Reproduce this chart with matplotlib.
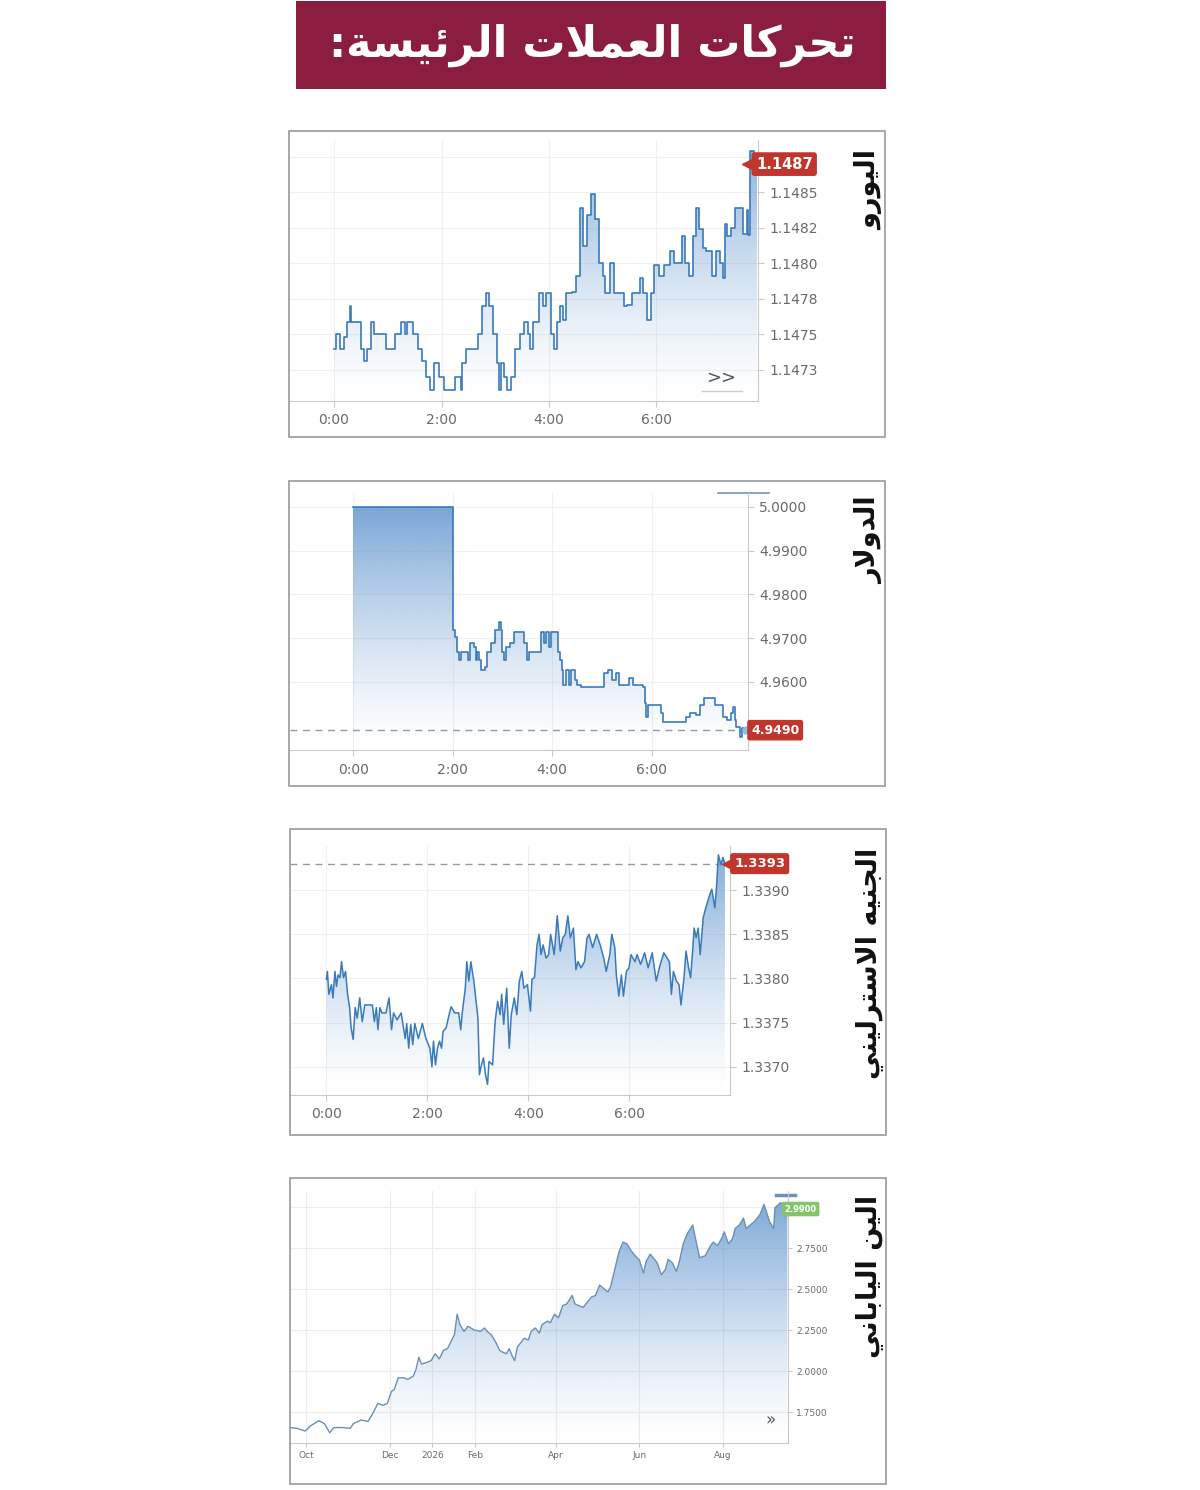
import numpy as np
import matplotlib
matplotlib.use("Agg")
import matplotlib.pyplot as plt
import matplotlib.colors as mcolors
import matplotlib.transforms as mtransforms
from matplotlib.patches import Rectangle

plt.rcParams['font.family'] = ['DejaVu Sans']

# ---------------- data ----------------
title_text = "تحركات العملات الرئيسة:"
labels = ["اليورو", "الدولار", "الجنيه الاسترليني", "الين الياباني"]

hour_ticks = [0, 2, 4, 6]
hour_labels = ["0:00", "2:00", "4:00", "6:00"]

# euro, hours since 0:00
eur_time = [0, 0.04, 0.11, 0.18, 0.25, 0.29, 0.32, 0.43, 0.5, 0.55,
            0.61, 0.68, 0.75, 0.93, 0.96, 1.11, 1.14, 1.25, 1.32, 1.36,
            1.46, 1.57, 1.64, 1.71, 1.79, 1.86, 1.96, 2.04, 2.21, 2.25,
            2.36, 2.39, 2.46, 2.54, 2.68, 2.75, 2.82, 2.89, 2.96, 3.04,
            3.07, 3.11, 3.16, 3.21, 3.29, 3.36, 3.46, 3.54, 3.61, 3.64,
            3.71, 3.82, 3.89, 3.95, 4.04, 4.09, 4.14, 4.21, 4.26, 4.32,
            4.43, 4.5, 4.57, 4.64, 4.71, 4.79, 4.86, 4.93, 5.0, 5.05,
            5.14, 5.21, 5.32, 5.39, 5.46, 5.54, 5.64, 5.69, 5.75, 5.82,
            5.89, 5.95, 6.04, 6.14, 6.25, 6.32, 6.43, 6.48, 6.54, 6.61,
            6.68, 6.74, 6.79, 6.86, 6.93, 7.04, 7.11, 7.18, 7.23, 7.27,
            7.32, 7.39, 7.46, 7.54, 7.61, 7.68, 7.71, 7.75, 7.82, 7.88]
eur_rate = [1.14740, 1.14750, 1.14740, 1.14748, 1.14759, 1.14770, 1.14759, 1.14759, 1.14740, 1.14731,
            1.14740, 1.14759, 1.14750, 1.14750, 1.14740, 1.14740, 1.14750, 1.14759, 1.14750, 1.14759,
            1.14750, 1.14740, 1.14731, 1.14720, 1.14711, 1.14730, 1.14720, 1.14711, 1.14711, 1.14720,
            1.14711, 1.14730, 1.14740, 1.14740, 1.14750, 1.14770, 1.14779, 1.14770, 1.14750, 1.14730,
            1.14711, 1.14730, 1.14720, 1.14711, 1.14720, 1.14740, 1.14750, 1.14759, 1.14750, 1.14740,
            1.14759, 1.14779, 1.14770, 1.14779, 1.14750, 1.14740, 1.14759, 1.14770, 1.14760, 1.14779,
            1.14780, 1.14791, 1.14839, 1.14812, 1.14834, 1.14849, 1.14831, 1.14800, 1.14791, 1.14779,
            1.14800, 1.14779, 1.14779, 1.14770, 1.14771, 1.14779, 1.14779, 1.14790, 1.14779, 1.14760,
            1.14779, 1.14799, 1.14791, 1.14799, 1.14809, 1.14800, 1.14800, 1.14819, 1.14800, 1.14791,
            1.14819, 1.14839, 1.14824, 1.14811, 1.14809, 1.14791, 1.14809, 1.14800, 1.14790, 1.14828,
            1.14819, 1.14825, 1.14839, 1.14839, 1.14821, 1.14838, 1.14820, 1.14879, 1.14876, 1.14870]
eur_ticks = [1.14725, 1.1475, 1.14775, 1.148, 1.14825, 1.1485, 1.14875]
eur_tick_labels = ["1.1473", "1.1475", "1.1478", "1.1480", "1.1482", "1.1485", ""]

# dollar
usd_time = [0, 2.0, 2.0, 2.04, 2.08, 2.12, 2.16, 2.27, 2.31, 2.35,
            2.43, 2.47, 2.5, 2.54, 2.58, 2.66, 2.7, 2.77, 2.85, 2.93,
            2.97, 3.0, 3.04, 3.08, 3.16, 3.24, 3.35, 3.43, 3.5, 3.54,
            3.7, 3.78, 3.83, 3.88, 3.93, 3.97, 4.04, 4.12, 4.16, 4.2,
            4.21, 4.28, 4.34, 4.39, 4.47, 4.51, 4.58, 4.97, 5.05, 5.12,
            5.2, 5.28, 5.35, 5.47, 5.55, 5.62, 5.82, 5.86, 5.89, 5.93,
            6.12, 6.2, 6.24, 6.66, 6.7, 6.78, 6.9, 6.97, 7.05, 7.2,
            7.28, 7.4, 7.43, 7.51, 7.59, 7.63, 7.67, 7.7, 7.78, 7.82,
            7.9]
usd_rate = [5.0, 5.0, 4.97186, 4.97034, 4.96692, 4.96502, 4.96692, 4.96692, 4.96502, 4.96882,
            4.96806, 4.96502, 4.96692, 4.96502, 4.96274, 4.9635, 4.96692, 4.96882, 4.97186, 4.97376,
            4.97186, 4.96692, 4.96502, 4.96806, 4.96882, 4.97148, 4.97148, 4.96882, 4.96502, 4.96692,
            4.96692, 4.97148, 4.96882, 4.97148, 4.96806, 4.97148, 4.97148, 4.96692, 4.96502, 4.96274,
            4.95931, 4.96274, 4.95931, 4.96274, 4.96045, 4.95931, 4.95893, 4.95893, 4.96198, 4.96274,
            4.96045, 4.96198, 4.95931, 4.95931, 4.96084, 4.95931, 4.95893, 4.95513, 4.95209, 4.95475,
            4.95475, 4.95285, 4.95095, 4.95095, 4.95209, 4.95285, 4.95247, 4.95475, 4.95627, 4.95627,
            4.95475, 4.95475, 4.95209, 4.95133, 4.95285, 4.95437, 4.95133, 4.94981, 4.94753, 4.94943,
            4.9490]
usd_ticks = [4.96, 4.97, 4.98, 4.99, 5.0]

# sterling
gbp_time = [0.0, 0.02, 0.05, 0.10, 0.13, 0.17, 0.2, 0.23, 0.27, 0.3,
            0.34, 0.38, 0.42, 0.46, 0.49, 0.53, 0.57, 0.61, 0.66, 0.71,
            0.76, 0.8, 0.91, 0.95, 0.99, 1.02, 1.06, 1.1, 1.18, 1.24,
            1.29, 1.33, 1.4, 1.48, 1.56, 1.59, 1.63, 1.67, 1.71, 1.75,
            1.82, 1.9, 1.97, 2.05, 2.09, 2.12, 2.16, 2.2, 2.24, 2.28,
            2.31, 2.37, 2.43, 2.47, 2.54, 2.62, 2.66, 2.69, 2.75, 2.78,
            2.82, 2.86, 2.92, 3.0, 3.03, 3.07, 3.11, 3.15, 3.19, 3.22,
            3.29, 3.34, 3.39, 3.44, 3.47, 3.51, 3.57, 3.62, 3.66, 3.72,
            3.77, 3.82, 3.87, 3.91, 3.98, 4.04, 4.07, 4.12, 4.17, 4.21,
            4.25, 4.29, 4.35, 4.4, 4.44, 4.51, 4.57, 4.63, 4.68, 4.73,
            4.78, 4.83, 4.89, 4.94, 4.98, 5.04, 5.11, 5.16, 5.2, 5.27,
            5.35, 5.42, 5.49, 5.54, 5.61, 5.65, 5.71, 5.74, 5.79, 5.84,
            5.88, 5.94, 5.99, 6.03, 6.11, 6.15, 6.22, 6.3, 6.37, 6.45,
            6.53, 6.6, 6.68, 6.79, 6.83, 6.87, 6.93, 6.98, 7.02, 7.08,
            7.12, 7.17, 7.21, 7.25, 7.28, 7.32, 7.36, 7.4, 7.46, 7.51,
            7.59, 7.63, 7.69, 7.72, 7.76, 7.81, 7.85, 7.89]
gbp_rate = [1.33799, 1.33808, 1.33782, 1.33793, 1.33778, 1.33808, 1.33791, 1.33804, 1.33801, 1.33819,
            1.33801, 1.33808, 1.33782, 1.33767, 1.33744, 1.33731, 1.33767, 1.33755, 1.33778, 1.33751,
            1.33770, 1.33770, 1.33770, 1.33751, 1.33767, 1.33742, 1.33767, 1.33761, 1.33761, 1.33778,
            1.33742, 1.33761, 1.33753, 1.33761, 1.33732, 1.33749, 1.33721, 1.33748, 1.33725, 1.33749,
            1.33732, 1.33749, 1.33732, 1.33721, 1.33700, 1.33729, 1.33702, 1.33721, 1.33729, 1.33721,
            1.33740, 1.33744, 1.33759, 1.33768, 1.33761, 1.33761, 1.33742, 1.33761, 1.33789, 1.33819,
            1.33797, 1.33819, 1.33797, 1.33755, 1.33691, 1.33702, 1.33710, 1.33691, 1.33680, 1.33706,
            1.33702, 1.33751, 1.33774, 1.33759, 1.33782, 1.33748, 1.33789, 1.33721, 1.33759, 1.33778,
            1.33759, 1.33797, 1.33808, 1.33789, 1.33793, 1.33763, 1.33799, 1.33801, 1.33838, 1.33850,
            1.33827, 1.33838, 1.33823, 1.33827, 1.33850, 1.33827, 1.33871, 1.33831, 1.33846, 1.33850,
            1.33871, 1.33846, 1.33857, 1.33810, 1.33819, 1.33812, 1.33819, 1.33846, 1.33850, 1.33835,
            1.33850, 1.33838, 1.33823, 1.33808, 1.33827, 1.33850, 1.33835, 1.33804, 1.33780, 1.33804,
            1.33780, 1.33808, 1.33812, 1.33827, 1.33819, 1.33827, 1.33816, 1.33829, 1.33812, 1.33829,
            1.33797, 1.33814, 1.33829, 1.33819, 1.33782, 1.33808, 1.33797, 1.33793, 1.33770, 1.33801,
            1.33831, 1.33812, 1.33801, 1.33831, 1.33857, 1.33846, 1.33857, 1.33827, 1.33869, 1.33880,
            1.33895, 1.33901, 1.33880, 1.33901, 1.33940, 1.33929, 1.33937, 1.33930]
gbp_ticks = [1.337, 1.3375, 1.338, 1.3385, 1.339]

# yen, days since 2025-10-01
yen_start = np.datetime64("2025-10-01")
yen_day = [-12, -7, -1, 3, 9, 13, 17, 20, 26, 32,
           34, 36, 40, 45, 49, 52, 56, 59, 62, 64,
           67, 71, 74, 78, 80, 82, 84, 88, 91, 94,
           97, 100, 103, 106, 108, 110, 112, 115, 118, 122,
           127, 130, 132, 135, 138, 141, 143, 146, 148, 150,
           152, 154, 156, 159, 162, 164, 167, 170, 172, 176,
           178, 181, 184, 187, 190, 194, 196, 199, 202, 204,
           208, 211, 214, 217, 220, 222, 225, 228, 231, 234,
           237, 240, 243, 246, 248, 251, 254, 256, 259, 262,
           264, 267, 270, 272, 275, 278, 282, 284, 287, 291,
           295, 297, 300, 303, 305, 308, 311, 313, 316, 319,
           321, 324, 327, 331, 334, 336, 338, 341, 342, 346,
           349, 351]
yen_rate = [1.6557, 1.6515, 1.6347, 1.6662, 1.6976, 1.6808, 1.6242, 1.6557, 1.6557, 1.6515,
            1.6767, 1.6871, 1.7018, 1.6934, 1.7500, 1.8024, 1.7920, 1.8024, 1.8758, 1.8863,
            1.9597, 1.9597, 1.9492, 1.9701, 2.0121, 2.0854, 2.0435, 2.0540, 2.0645, 2.1064,
            2.0750, 2.1274, 2.1379, 2.1903, 2.2217, 2.3475, 2.2846, 2.2427, 2.2741, 2.2532,
            2.2427, 2.2636, 2.2427, 2.2217, 2.1798, 2.1274, 2.1169, 2.1064, 2.1379, 2.0959,
            2.0645, 2.1483, 2.1693, 2.2007, 2.1903, 2.2427, 2.2636, 2.2322, 2.2846, 2.3056,
            2.2951, 2.3475, 2.3265, 2.3999, 2.4104, 2.4628, 2.4104, 2.3999, 2.3894, 2.4104,
            2.4523, 2.4628, 2.5257, 2.5047, 2.4838, 2.5152, 2.6200, 2.7248, 2.7877, 2.7773,
            2.7353, 2.7039, 2.6787, 2.5991, 2.6724, 2.7144, 2.6829, 2.6620, 2.5886, 2.6200,
            2.6829, 2.6620, 2.6095, 2.6620, 2.7773, 2.8401, 2.8926, 2.8087, 2.6934, 2.7039,
            2.7668, 2.7877, 2.7668, 2.8087, 2.8506, 2.7773, 2.8087, 2.8716, 2.8926, 2.9345,
            2.8716, 2.8926, 2.9135, 2.9554, 3.0183, 2.9659, 2.9135, 2.8716, 2.9974, 3.0288,
            3.0079, 2.9900]
yen_ticks = [1.75, 2.0, 2.25, 2.5, 2.75, 3.0]
yen_month_dates = ["2025-10-01", "2025-12-01", "2026-01-01", "2026-02-01",
                   "2026-04-01", "2026-06-01", "2026-08-01"]
yen_month_labels = ["Oct", "Dec", "2026", "Feb", "Apr", "Jun", "Aug"]

# ---------------- arabic shaping (matplotlib has no bidi) ----------------
FORMS = {
    'ا': ('\uFE8D', '\uFE8E', None, None),
    'ب': ('\uFE8F', '\uFE90', '\uFE91', '\uFE92'),
    'ة': ('\uFE93', '\uFE94', None, None),
    'ت': ('\uFE95', '\uFE96', '\uFE97', '\uFE98'),
    'ج': ('\uFE9D', '\uFE9E', '\uFE9F', '\uFEA0'),
    'ح': ('\uFEA1', '\uFEA2', '\uFEA3', '\uFEA4'),
    'د': ('\uFEA9', '\uFEAA', None, None),
    'ر': ('\uFEAD', '\uFEAE', None, None),
    'س': ('\uFEB1', '\uFEB2', '\uFEB3', '\uFEB4'),
    'ع': ('\uFEC9', '\uFECA', '\uFECB', '\uFECC'),
    'ك': ('\uFED9', '\uFEDA', '\uFEDB', '\uFEDC'),
    'ل': ('\uFEDD', '\uFEDE', '\uFEDF', '\uFEE0'),
    'م': ('\uFEE1', '\uFEE2', '\uFEE3', '\uFEE4'),
    'ن': ('\uFEE5', '\uFEE6', '\uFEE7', '\uFEE8'),
    'ه': ('\uFEE9', '\uFEEA', '\uFEEB', '\uFEEC'),
    'و': ('\uFEED', '\uFEEE', None, None),
    'ي': ('\uFEF1', '\uFEF2', '\uFEF3', '\uFEF4'),
    'ئ': ('\uFE89', '\uFE8A', '\uFE8B', '\uFE8C'),
}


def shape(text):
    res = []
    i = 0
    n = len(text)
    while i < n:
        c = text[i]
        if c not in FORMS:
            res.append(c)
            i += 1
            continue
        prev = i > 0 and text[i-1] in FORMS and FORMS[text[i-1]][2] is not None
        if c == 'ل' and i + 1 < n and text[i+1] == 'ا':
            res.append('\uFEFC' if prev else '\uFEFB')
            i += 2
            continue
        nxt = FORMS[c][2] is not None and i + 1 < n and text[i+1] in FORMS
        iso, fin, ini, med = FORMS[c]
        if prev and nxt:
            g = med
        elif prev:
            g = fin
        elif nxt:
            g = ini
        else:
            g = iso
        res.append(g)
        i += 1
    return ''.join(reversed(res))


# ---------------- figure ----------------
W, H = 1200, 1490
fig = plt.figure(figsize=(W/100, H/100), dpi=100)
fig.patch.set_facecolor('white')

LINE = '#3a7aba'
FILL = '#5f95cf'
RED = '#c0362c'
GRAY = '#c9c9c9'
TXT = '#6a6a6a'


def px_axes(x0, y0, x1, y1):
    return fig.add_axes([x0/W, 1 - y1/H, (x1-x0)/W, (y1-y0)/H])


def frame(x0, y0, x1, y1):
    fig.patches.append(Rectangle((x0/W, 1 - y1/H), (x1-x0)/W, (y1-y0)/H,
                                 transform=fig.transFigure, fill=False,
                                 edgecolor='#9a9a9a', linewidth=1.2))


def style(ax, size=10):
    for s in ['top', 'left']:
        ax.spines[s].set_visible(False)
    for s in ['right', 'bottom']:
        ax.spines[s].set_color(GRAY)
    ax.yaxis.tick_right()
    ax.tick_params(axis='both', colors=GRAY, labelcolor=TXT, length=4,
                   labelsize=size, width=0.8)
    ax.grid(True, color='#f0f0f0', linewidth=0.8)
    ax.set_axisbelow(True)


def gradient_fill(ax, x, y, step=None, top_alpha=0.85):
    x0, x1 = ax.get_xlim()
    y0, y1 = ax.get_ylim()
    coll = ax.fill_between(x, y, y0, step=step, facecolor='none', edgecolor='none')
    t = np.linspace(0, 1, 256) ** 1.35
    rgba = np.zeros((256, 1, 4))
    rgba[..., :3] = mcolors.to_rgb(FILL)
    rgba[:, 0, 3] = t * top_alpha
    im = ax.imshow(rgba, extent=[x0, x1, y0, y1], origin='lower', aspect='auto',
                   zorder=1, interpolation='bilinear')
    im.set_clip_path(coll.get_paths()[0], transform=ax.transData)
    ax.set_xlim(x0, x1)
    ax.set_ylim(y0, y1)


def price_tag(ax, value, text, color, dx, fs, arrow=True):
    tr = mtransforms.blended_transform_factory(ax.transAxes, ax.transData)
    ax.annotate(text, xy=(1, value), xycoords=tr, xytext=(dx, 0),
                textcoords='offset points', ha='left', va='center',
                color='white', fontsize=fs, fontweight='bold',
                bbox=dict(boxstyle='round,pad=0.25,rounding_size=0.15', fc=color, ec=color),
                annotation_clip=False, zorder=10)
    if arrow:
        off = mtransforms.offset_copy(tr, fig=fig, x=dx - fs*0.25 - 2, y=0, units='points')
        ax.plot([1], [value], marker='<', ms=fs*0.9, color=color, mec=color,
                transform=off, clip_on=False, zorder=10)


# title banner
fig.patches.append(Rectangle((296/W, 1 - 89/H), 590/W, 88/H, transform=fig.transFigure,
                             facecolor='#8b1d3f', edgecolor='none'))
fig.text(592/W, 1 - 45/H, shape(title_text), color='white', fontsize=31,
         fontweight='bold', ha='center', va='center')

# panel frames
frame(289, 131, 885, 437)
frame(289, 481, 885, 786)
frame(290, 829, 886, 1135)
frame(290, 1178, 886, 1484)

# side labels
for lab, ytop in zip(labels, [150, 496, 848, 1195]):
    fig.text(869/W, 1 - ytop/H, shape(lab), rotation=90, fontsize=19.5,
             fontweight='bold', color='#111111', ha='center', va='top')

# ---- euro ----
ax1 = px_axes(290, 140, 758, 401)
ax1.set_xlim(-0.82, 7.89)
ax1.set_ylim(1.14703, 1.14887)
style(ax1)
gradient_fill(ax1, eur_time, eur_rate, step='post', top_alpha=0.75)
ax1.plot(eur_time, eur_rate, drawstyle='steps-post', color=LINE, lw=1.2, zorder=3)
ax1.set_xticks(hour_ticks, hour_labels)
ax1.set_yticks(eur_ticks, eur_tick_labels)
ax1.tick_params(axis='x', pad=5)
ax1.tick_params(axis='y', pad=4)
price_tag(ax1, eur_rate[-1], f"{eur_rate[-1]:.4f}", RED, -1.5, 10.5)
ax1.text(0.922, 0.09, ">>", transform=ax1.transAxes, fontsize=13, color='#555555',
         ha='center', va='center')
ax1.plot([0.88, 0.965], [0.04, 0.04], transform=ax1.transAxes, color='#cccccc', lw=1)

# ---- dollar ----
ax2 = px_axes(290, 493, 748, 750)
ax2.set_xlim(-1.27, 7.94)
ax2.set_ylim(4.94448, 5.00312)
style(ax2)
gradient_fill(ax2, usd_time, usd_rate, step='post', top_alpha=0.9)
ax2.plot(usd_time, usd_rate, drawstyle='steps-post', color=LINE, lw=1.2, zorder=3)
ax2.axhline(usd_rate[-1], color='#9a9a9a', lw=1, ls=(0, (5, 4)), zorder=2)
ax2.set_xticks(hour_ticks, hour_labels)
ax2.set_yticks(usd_ticks, [f"{v:.4f}" for v in usd_ticks])
ax2.tick_params(axis='x', pad=5)
ax2.tick_params(axis='y', pad=4)
ax2.plot([usd_time[-1]], [usd_rate[-1]], 'o', ms=5, color='#7fc4ea', zorder=4, clip_on=False)
price_tag(ax2, usd_rate[-1], f"{usd_rate[-1]:.4f}", RED, 2.2, 9, arrow=False)
ax2.plot([0.935, 1.045], [1.0, 1.0], transform=ax2.transAxes, color='#6e96c4', lw=1.2,
         clip_on=False)

# ---- sterling ----
ax3 = px_axes(290, 846, 730, 1095)
ax3.set_xlim(-0.72, 7.99)
ax3.set_ylim(1.33668, 1.33950)
style(ax3)
gradient_fill(ax3, gbp_time, gbp_rate, top_alpha=0.8)
ax3.plot(gbp_time, gbp_rate, color=LINE, lw=1.1, zorder=3)
ax3.axhline(gbp_rate[-1], color='#9a9a9a', lw=1, ls=(0, (5, 4)), zorder=2)
ax3.set_xticks(hour_ticks, hour_labels)
ax3.set_yticks(gbp_ticks, [f"{v:.4f}" for v in gbp_ticks])
ax3.tick_params(axis='x', pad=5)
ax3.tick_params(axis='y', pad=4)
price_tag(ax3, gbp_rate[-1], f"{gbp_rate[-1]:.4f}", RED, 3.0, 9.5)

# ---- yen ----
ax4 = px_axes(290, 1191, 788, 1443)
ax4.set_xlim(-12, 351.5)
ax4.set_ylim(1.5614, 3.10)
style(ax4, size=6.5)
gradient_fill(ax4, yen_day, yen_rate, top_alpha=0.85)
ax4.plot(yen_day, yen_rate, color='#6d8fb5', lw=1.0, zorder=3)
month_pos = [(np.datetime64(d) - yen_start).astype(int) for d in yen_month_dates]
ax4.set_xticks(month_pos, yen_month_labels)
ax4.set_yticks(yen_ticks, [f"{v:.4f}" if v < 3 else "" for v in yen_ticks])
ax4.grid(True, color='#ececec', linewidth=0.8)
ax4.tick_params(axis='both', length=3, pad=3)
price_tag(ax4, yen_rate[-1], f"{yen_rate[-1]:.4f}", '#84c46c', -2.5, 6, arrow=False)
ax4.text(0.965, 0.09, "»", transform=ax4.transAxes, fontsize=12, color='#555555',
         ha='center', va='center')
ax4.plot([0.975, 1.015], [0.985, 0.985], transform=ax4.transAxes, color='#6f8fc0', lw=2.5,
         clip_on=False)

fig.savefig("out.png", dpi=100, facecolor='white')
